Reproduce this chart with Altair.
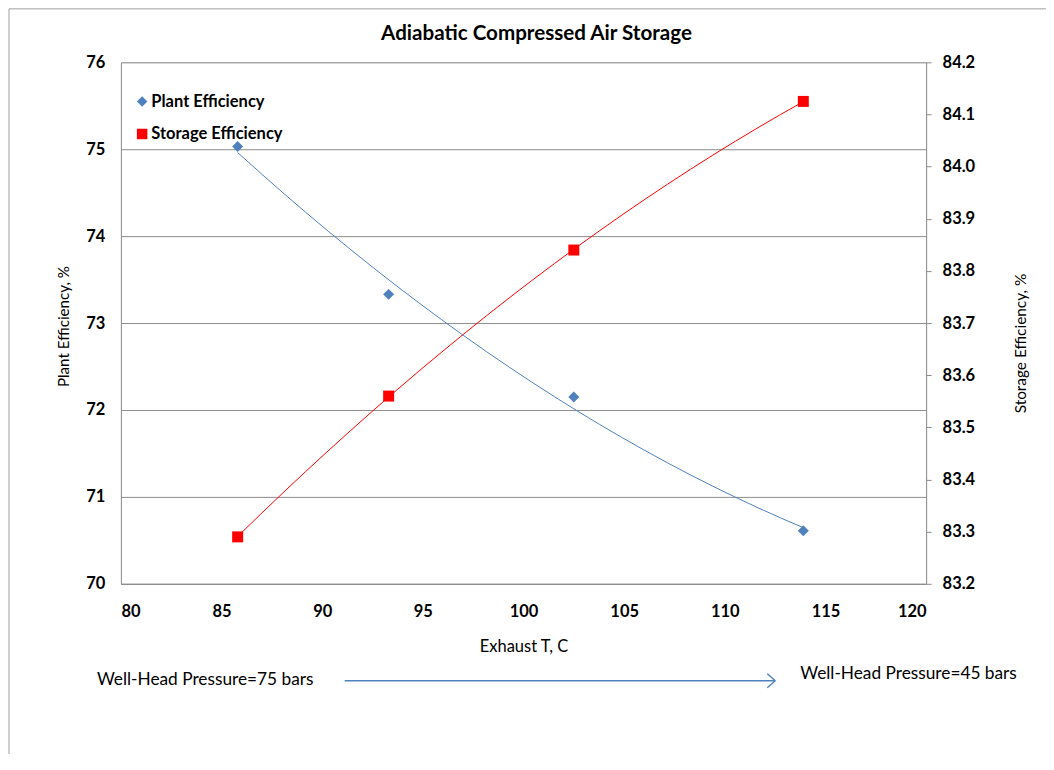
import altair as alt
import pandas as pd

# ---- data ----
exhaust_t = [85.8, 93.3, 102.5, 113.9]
plant_eff = [75.03, 73.33, 72.15, 70.61]
storage_eff = [83.29, 83.56, 83.84, 84.125]

x_ticks = [80, 85, 90, 95, 100, 105, 110, 115, 120]
left_ticks = [70, 71, 72, 73, 74, 75, 76]
right_ticks = [83.2, 83.3, 83.4, 83.5, 83.6, 83.7, 83.8, 83.9, 84.0, 84.1, 84.2]

series_names = ["Plant Efficiency", "Storage Efficiency"]
series_colors = ["#4F81BD", "#FF0000"]
series_shapes = ["diamond", "square"]

chart_title = ["Adiabatic Compressed Air Storage"]
x_title = "Exhaust T, C"
left_title = "Plant Efficiency, %"
right_title = "Storage Efficiency, %"
note_left = ["Well-Head Pressure=75 bars"]
note_right = ["Well-Head Pressure=45 bars"]

FONT = "Lato"
GRAY = "#8C8C8C"
TICK_FS = 16.5

df = pd.DataFrame({"t": exhaust_t, "plant": plant_eff, "storage": storage_eff})

x_enc = alt.X(
    "t:Q",
    scale=alt.Scale(domain=[80, 120], nice=False, zero=False),
    axis=alt.Axis(
        values=x_ticks, title=x_title, ticks=False, grid=False,
        domainColor=GRAY, labelFont=FONT, labelFontSize=TICK_FS, labelFontWeight="bold",
        labelColor="black", labelPadding=20,
        titleFont=FONT, titleFontSize=16.5, titleFontWeight="normal", titleColor="black",
        titleY=63, titleBaseline="middle",
    ),
)

y_left = alt.Y(
    "plant:Q",
    scale=alt.Scale(domain=[70, 76], nice=False, zero=False),
    axis=alt.Axis(
        values=left_ticks, grid=True, gridColor=GRAY, ticks=False, domainColor=GRAY,
        labelFont=FONT, labelFontSize=TICK_FS, labelFontWeight="bold", labelColor="black",
        labelPadding=16, title=left_title, titleFont=FONT, titleFontSize=15.2,
        titleFontWeight="normal", titleColor="black", titleX=-57.5, titleY=264,
        titleAngle=270, titleBaseline="middle",
    ),
)

y_right = alt.Y(
    "storage:Q",
    scale=alt.Scale(domain=[83.2, 84.2], nice=False, zero=False),
    axis=alt.Axis(
        orient="right", values=right_ticks, format=".1f", grid=False, ticks=True,
        tickSize=5, tickColor=GRAY, domainColor=GRAY,
        labelFont=FONT, labelFontSize=TICK_FS, labelFontWeight="bold", labelColor="black",
        labelPadding=11, title=right_title, titleFont=FONT, titleFontSize=15.4,
        titleFontWeight="normal", titleColor="black", titleX=94.5, titleY=281,
        titleAngle=270, titleBaseline="middle",
    ),
)

color_scale = alt.Scale(domain=series_names, range=series_colors)
shape_scale = alt.Scale(domain=series_names, range=series_shapes)
legend = alt.Legend(
    title=None, orient="none", legendX=13, legendY=31, padding=0,
    labelFont=FONT, labelFontSize=16.5, labelFontWeight="bold", labelColor="black",
    symbolSize=110, labelOffset=1, rowPadding=15.5, symbolStrokeWidth=0,
)

base = alt.Chart(df)

plant_line = base.transform_regression(
    "t", "plant", method="poly", order=2
).mark_line(color=series_colors[0], strokeWidth=1).encode(x=x_enc, y=y_left)

plant_pts = base.transform_calculate(series="'Plant Efficiency'").mark_point(
    filled=True, size=121, opacity=1, strokeWidth=0
).encode(
    x=x_enc, y=y_left,
    color=alt.Color("series:N", scale=color_scale, legend=legend),
    shape=alt.Shape("series:N", scale=shape_scale, legend=legend),
)

storage_line = base.transform_regression(
    "t", "storage", method="poly", order=2
).mark_line(color=series_colors[1], strokeWidth=1).encode(x=x_enc, y=y_right)

storage_pts = base.transform_calculate(series="'Storage Efficiency'").mark_point(
    filled=True, size=121, opacity=1, strokeWidth=0
).encode(
    x=x_enc, y=y_right,
    color=alt.Color("series:N", scale=color_scale, legend=legend),
    shape=alt.Shape("series:N", scale=shape_scale, legend=legend),
)

left_layer = alt.layer(plant_line, plant_pts)
right_layer = alt.layer(storage_line, storage_pts)

# ---- title and annotations ----
one = pd.DataFrame({"a": [0]})
title_txt = alt.Chart(pd.DataFrame({"label": chart_title})).mark_text(
    align="center", baseline="middle", font=FONT, fontSize=20.6, fontWeight="bold",
    color="black"
).encode(x=alt.value(416), y=alt.value(-28.5), text="label:N")
txt_left = alt.Chart(pd.DataFrame({"label": note_left})).mark_text(
    align="left", baseline="middle", font=FONT, fontSize=17.3, color="black"
).encode(x=alt.value(-24), y=alt.value(618), text="label:N")
txt_right = alt.Chart(pd.DataFrame({"label": note_right})).mark_text(
    align="left", baseline="middle", font=FONT, fontSize=17.3, color="black"
).encode(x=alt.value(680), y=alt.value(612), text="label:N")

arrow_shaft = alt.Chart(one).mark_rule(color="#4F81BD", strokeWidth=1.5).encode(
    x=alt.value(224), x2=alt.value(655), y=alt.value(619), y2=alt.value(619)
)
arrow_h1 = alt.Chart(one).mark_rule(color="#4F81BD", strokeWidth=1.5).encode(
    x=alt.value(647), x2=alt.value(655), y=alt.value(612), y2=alt.value(619)
)
arrow_h2 = alt.Chart(one).mark_rule(color="#4F81BD", strokeWidth=1.5).encode(
    x=alt.value(647), x2=alt.value(655), y=alt.value(626), y2=alt.value(619)
)
frame_left = alt.Chart(one).mark_rule(color="#A0A0A0", strokeWidth=1).encode(
    x=alt.value(-112), y=alt.value(-53.5), y2=alt.value(720)
)
frame_top = alt.Chart(one).mark_rule(color="#A0A0A0", strokeWidth=1).encode(
    x=alt.value(-112), x2=alt.value(960), y=alt.value(-53.5)
)

chart = alt.layer(
    left_layer, right_layer, title_txt, txt_left, txt_right, arrow_shaft, arrow_h1,
    arrow_h2, frame_left, frame_top
).resolve_scale(y="independent").properties(
    width=806,
    height=522,
    autosize=alt.AutoSizeParams(type="none"),
    padding={"left": 113, "top": 54, "right": 120, "bottom": 170},
).configure_view(stroke=GRAY, strokeWidth=1).configure(background="white")

chart.save("out.html", embed_options={"renderer": "svg", "actions": False})
